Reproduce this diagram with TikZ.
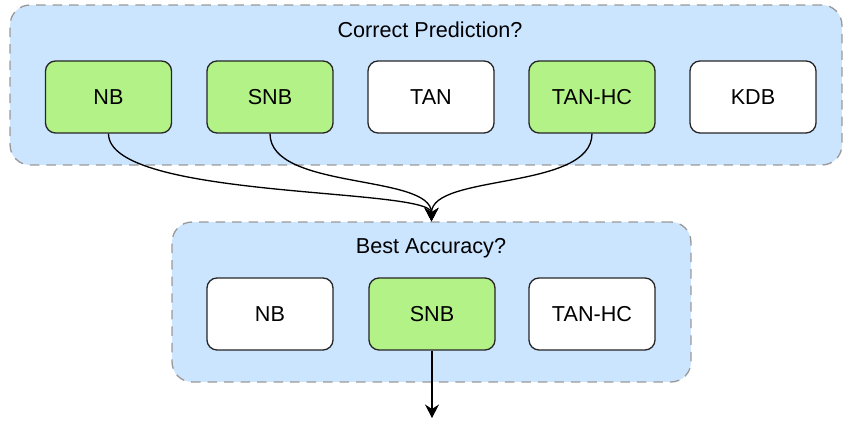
\documentclass[tikz,border=0pt]{standalone}
\usepackage{fontspec}
\setmainfont{Liberation Sans}
\usetikzlibrary{arrows.meta}

\definecolor{grpblue}{HTML}{CCE5FF}
\definecolor{hitgreen}{HTML}{B3F287}
\definecolor{dashgray}{HTML}{999999}

\tikzset{
  group/.style={draw=dashgray, fill=grpblue, dashed, dash pattern=on 5.4pt off 4pt,
    line width=0.75pt, rounded corners=0.4cm, inner sep=0pt},
  model/.style={draw=black!85, fill=white, line width=0.75pt, rounded corners=0.2cm,
    minimum width=2.52cm, minimum height=1.44cm, inner sep=0pt,
    font=\fontsize{12.3}{14}\selectfont},
  hit/.style={model, fill=hitgreen},
  grptitle/.style={font=\fontsize{12.3}{14}\selectfont, inner sep=0pt},
  flow/.style={line width=0.75pt, -{Stealth[length=0.27cm, width=0.28cm, inset=0.09cm]}}
}

\begin{document}
\begin{tikzpicture}[x=0.02cm, y=-0.02cm]
\useasboundingbox (0,0) rectangle (843,421);

%--- Correct Prediction? ---
\node[group, minimum width=16.64cm, minimum height=3.2cm] (predgrp) at (426,85) {};
\node[grptitle] (predtitle) at (430,30) {Correct Prediction?};

\node[hit]   (nbA)    at (108.5,97) {NB};
\node[hit]   (snbA)   at (270,97)   {SNB};
\node[model] (tanA)   at (431,97)   {TAN};
\node[hit]   (tanhcA) at (592,97)   {TAN-HC};
\node[model] (kdbA)   at (753,97)   {KDB};

%--- Best Accuracy? ---
\node[group, minimum width=10.38cm, minimum height=3.2cm] (bestgrp) at (431.5,302) {};
\node[grptitle] (besttitle) at (431,248) {Best Accuracy?};

\node[model] (nbB)    at (270,314) {NB};
\node[hit]   (snbB)   at (432,314) {SNB};
\node[model] (tanhcB) at (592,314) {TAN-HC};

% correct ones go on to the accuracy check
\draw[flow] (nbA.south)    .. controls +(0,66) and +(0,-34) .. (bestgrp.north);
\draw[flow] (snbA.south)   .. controls +(0,57) and +(0,-48) .. (bestgrp.north);
\draw[flow] (tanhcA.south) .. controls +(0,57) and +(0,-48) .. (bestgrp.north);

% winner
\coordinate (result) at (432,418);
\draw[flow] (snbB.south) -- (result);

\end{tikzpicture}
\end{document}
